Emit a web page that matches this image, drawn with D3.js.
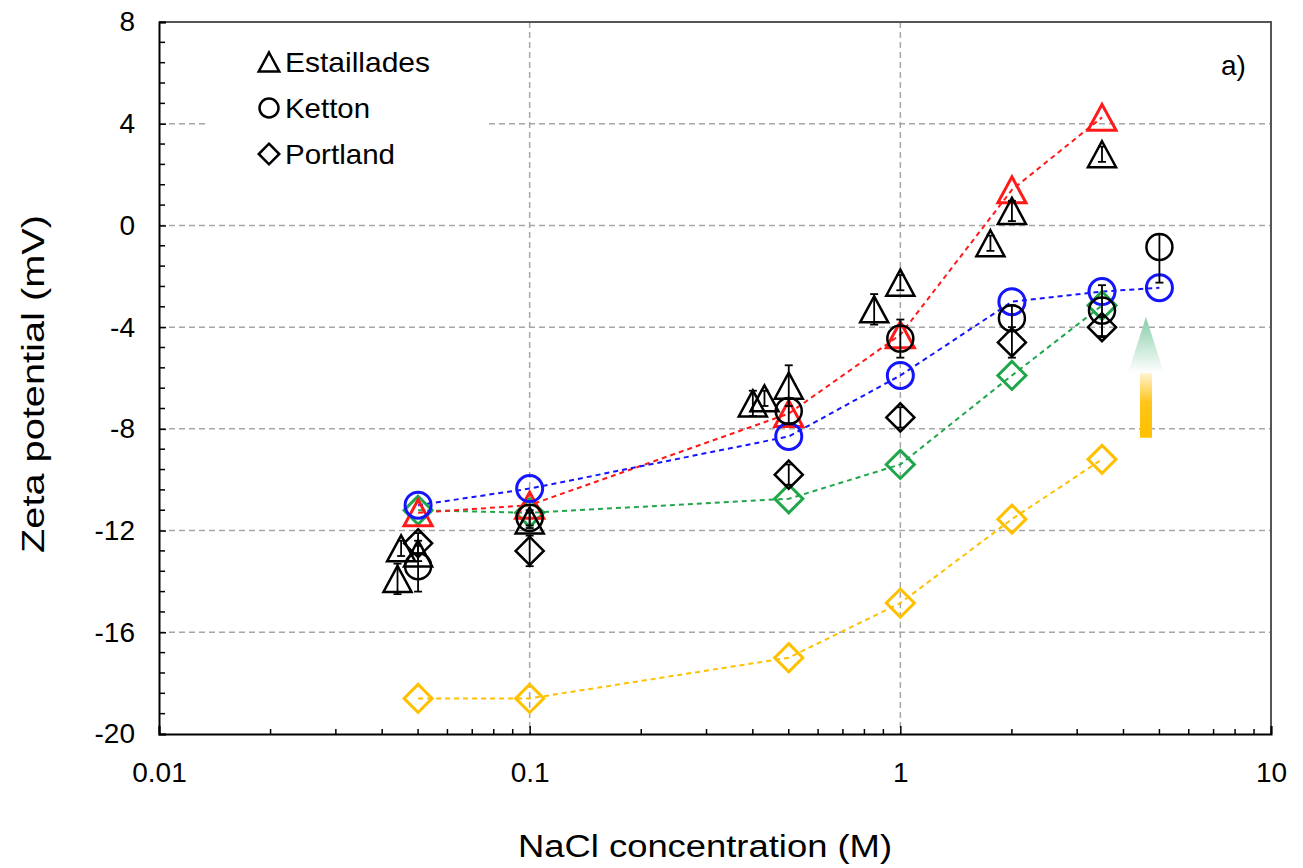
<!DOCTYPE html>
<html>
<head>
<meta charset="utf-8">
<script src="https://cdn.jsdelivr.net/npm/d3@7/dist/d3.min.js"></script>
<style>
  html, body { margin: 0; padding: 0; background: #fff; }
  svg { display: block; font-family: "Liberation Sans", Arial, sans-serif; }
</style>
</head>
<body>
<svg id="chart" width="1303" height="868"></svg>
<script>
// Axis ticks
const xTickValues = [0.01, 0.1, 1, 10];
const xTickLabels = ["0.01", "0.1", "1", "10"];
const yTickValues = [-20, -16, -12, -8, -4, 0, 4, 8];
const yTickLabels = ["-20", "-16", "-12", "-8", "-4", "0", "4", "8"];
const yGridValues = [-16, -12, -8, -4, 0, 4];

// Model curves (NaCl concentration in M, zeta potential in mV)
const modelConc = [0.05, 0.1, 0.5, 1, 2, 3.5];
const kettonModelConc = [0.05, 0.1, 0.5, 1, 2, 3.5, 5];
const estailladesModel = [-11.3, -11.0, -7.4, -4.3, 1.4, 4.25];
const kettonModel = [-11.0, -10.35, -8.3, -5.9, -3.0, -2.6, -2.45];
const portlandModel = [-11.2, -11.3, -10.75, -9.4, -5.9, -3.15];
const portlandModelLow = [-18.6, -18.6, -17.0, -14.85, -11.55, -9.2];

// Measurements with error bars (upper / lower extent in mV)
const estailladesConc = [0.044, 0.045, 0.05, 0.1, 0.4, 0.43, 0.5, 0.85, 1, 1.75, 2, 3.5];
const estailladesZeta = [-13.9, -12.7, -12.9, -11.6, -7.0, -6.8, -6.3, -3.3, -2.25, -0.7, 0.57, 2.8];
const estailladesErrUp = [0.6, 0.3, 0.3, 0.3, 0.5, 0.3, 0.8, 0.6, 0.3, 0.3, 0.4, 0.3];
const estailladesErrDown = [0.6, 0.3, 0.3, 0.3, 0.5, 0.3, 0.8, 0.6, 0.3, 0.3, 0.4, 0.3];

const kettonConc = [0.05, 0.1, 0.5, 1, 2, 3.5, 5];
const kettonZeta = [-13.4, -11.5, -7.3, -4.45, -3.65, -3.35, -0.85];
const kettonErrUp = [1.0, 0.3, 0.5, 0.75, 0.5, 1.0, 0.5];
const kettonErrDown = [1.0, 0.3, 0.5, 0.75, 0.5, 1.0, 1.4];

const portlandConc = [0.05, 0.1, 0.5, 1, 2, 3.5];
const portlandZeta = [-12.5, -12.8, -9.8, -7.55, -4.6, -4.0];
const portlandErrUp = [0.4, 0.6, 0.4, 0.4, 0.6, 0.4];
const portlandErrDown = [0.4, 0.6, 0.4, 0.4, 0.6, 0.4];

// Arrow annotation (concentration, zeta from base to tip)
const arrowConc = 4.6;
const arrowBase = -8.35;
const arrowNeck = -5.8;
const arrowTip = -3.6;

const legendNames = ["Estaillades", "Ketton", "Portland"];
const legendShapes = ["triangle", "circle", "diamond"];

const svg = d3.select("#chart");
const plotLeft = 159, plotRight = 1271, plotTop = 22, plotBottom = 734;

const x = d3.scaleLog().domain([0.01, 10]).range([plotLeft, plotRight]);
const y = d3.scaleLinear().domain([-20, 8]).range([plotBottom, plotTop]);

function shapePath(shape, s) {
  if (shape === "circle") {
    return `M${-s},0A${s},${s} 0 1,0 ${s},0A${s},${s} 0 1,0 ${-s},0Z`;
  }
  if (shape === "triangle") {
    const w = s * 1.08, h = s;
    return `M0,${-h}L${w},${h}L${-w},${h}Z`;
  }
  return `M0,${-s * 1.08}L${s * 1.08},0L0,${s * 1.08}L${-s * 1.08},0Z`;
}

// Gradients for the arrow
const defs = svg.append("defs");
const gShaft = defs.append("linearGradient").attr("id", "shaftGrad")
  .attr("x1", 0).attr("y1", 1).attr("x2", 0).attr("y2", 0);
gShaft.append("stop").attr("offset", "0%").attr("stop-color", "#ffc000");
gShaft.append("stop").attr("offset", "55%").attr("stop-color", "#ffc61a");
gShaft.append("stop").attr("offset", "100%").attr("stop-color", "#fff4d6");
const gHead = defs.append("linearGradient").attr("id", "headGrad")
  .attr("x1", 0).attr("y1", 1).attr("x2", 0).attr("y2", 0);
gHead.append("stop").attr("offset", "0%").attr("stop-color", "#ffffff");
gHead.append("stop").attr("offset", "100%").attr("stop-color", "#86cda8");

// Grid lines
svg.append("g").selectAll("line").data(yGridValues).join("line")
  .attr("x1", plotLeft).attr("x2", plotRight)
  .attr("y1", d => y(d)).attr("y2", d => y(d))
  .attr("stroke", "#a6a6a6").attr("stroke-width", 1.5)
  .attr("stroke-dasharray", "6,4");
svg.append("g").selectAll("line").data([0.1, 1]).join("line")
  .attr("x1", d => x(d)).attr("x2", d => x(d))
  .attr("y1", plotTop).attr("y2", plotBottom)
  .attr("stroke", "#a6a6a6").attr("stroke-width", 1.5)
  .attr("stroke-dasharray", "6,4");

// Legend background
svg.append("rect").attr("x", 205).attr("y", plotTop + 2).attr("width", 283).attr("height", 158)
  .attr("fill", "#fff");

// Frame (top / right)
svg.append("path")
  .attr("d", `M${plotLeft},${plotTop}H${plotRight}V${plotBottom}`)
  .attr("fill", "none").attr("stroke", "#555").attr("stroke-width", 2);

// Axes with inward ticks
const xMinor = [];
[0.01, 0.1, 1].forEach(d => { for (let k = 2; k <= 9; k++) xMinor.push(d * k); });
const xAxis = d3.axisBottom(x).tickValues(xTickValues).tickSize(-8).tickPadding(28)
  .tickFormat((d, i) => xTickLabels[i]);
const gx = svg.append("g").attr("transform", `translate(0,${plotBottom})`).call(xAxis);
gx.select(".domain").attr("stroke", "#000").attr("stroke-width", 2);
gx.selectAll(".tick line").attr("stroke", "#000").attr("stroke-width", 1.5);
gx.selectAll(".tick text").attr("font-size", 28).attr("fill", "#000")
  .attr("font-family", "'Liberation Sans', Arial, sans-serif");
svg.append("g").selectAll("line").data(xMinor).join("line")
  .attr("x1", d => x(d)).attr("x2", d => x(d))
  .attr("y1", plotBottom).attr("y2", plotBottom - 5)
  .attr("stroke", "#000").attr("stroke-width", 1.5);

const yMinor = d3.range(-20, 8.01, 0.8).filter(v => Math.abs(v / 4 - Math.round(v / 4)) > 1e-6);
const yAxis = d3.axisLeft(y).tickValues(yTickValues).tickSize(-7).tickPadding(24)
  .tickFormat((d, i) => yTickLabels[i]);
const gy = svg.append("g").attr("transform", `translate(${plotLeft},0)`).call(yAxis);
gy.select(".domain").attr("stroke", "#000").attr("stroke-width", 2);
gy.selectAll(".tick line").attr("stroke", "#000").attr("stroke-width", 1.5);
gy.selectAll(".tick text").attr("font-size", 28).attr("fill", "#000")
  .attr("font-family", "'Liberation Sans', Arial, sans-serif");
svg.append("g").selectAll("line").data(yMinor).join("line")
  .attr("x1", plotLeft).attr("x2", plotLeft + 6)
  .attr("y1", d => y(d)).attr("y2", d => y(d))
  .attr("stroke", "#000").attr("stroke-width", 1.5);

// Axis titles
svg.append("text").attr("x", 705).attr("y", 857).attr("text-anchor", "middle")
  .attr("font-size", 31).attr("textLength", 374).attr("lengthAdjust", "spacingAndGlyphs")
  .text("NaCl concentration (M)");
svg.append("text").attr("transform", `translate(44,${(plotTop + plotBottom) / 2 + 6}) rotate(-90)`)
  .attr("text-anchor", "middle").attr("font-size", 31)
  .attr("textLength", 338).attr("lengthAdjust", "spacingAndGlyphs")
  .text("Zeta potential (mV)");
svg.append("text").attr("x", 1221).attr("y", 75).attr("font-size", 28).text("a)");

// Model curves and markers
const models = [
  { conc: modelConc, vals: portlandModelLow, color: "#ffc000", shape: "diamond" },
  { conc: modelConc, vals: portlandModel, color: "#1fa64a", shape: "diamond" },
  { conc: modelConc, vals: estailladesModel, color: "#ff1a1a", shape: "triangle" },
  { conc: kettonModelConc, vals: kettonModel, color: "#1414ff", shape: "circle" }
];
const line = d3.line().x(d => x(d[0])).y(d => y(d[1]));
models.forEach(m => {
  const pts = m.conc.map((c, i) => [c, m.vals[i]]);
  svg.append("path").datum(pts).attr("d", line)
    .attr("fill", "none").attr("stroke", m.color).attr("stroke-width", 2)
    .attr("stroke-dasharray", "5,4");
});
models.forEach(m => {
  const pts = m.conc.map((c, i) => [c, m.vals[i]]);
  svg.append("g").selectAll("path").data(pts).join("path")
    .attr("transform", d => `translate(${x(d[0])},${y(d[1])})`)
    .attr("d", shapePath(m.shape, 13))
    .attr("fill", "none").attr("stroke", m.color).attr("stroke-width", 3);
});

// Measurements
const measured = [
  { conc: portlandConc, vals: portlandZeta, up: portlandErrUp, down: portlandErrDown, shape: "diamond" },
  { conc: kettonConc, vals: kettonZeta, up: kettonErrUp, down: kettonErrDown, shape: "circle" },
  { conc: estailladesConc, vals: estailladesZeta, up: estailladesErrUp, down: estailladesErrDown, shape: "triangle" }
];
measured.forEach(m => {
  const pts = m.conc.map((c, i) => ({ c, v: m.vals[i], hi: m.vals[i] + m.up[i], lo: m.vals[i] - m.down[i] }));
  const g = svg.append("g");
  g.selectAll("path.mk").data(pts).join("path").attr("class", "mk")
    .attr("transform", d => `translate(${x(d.c)},${y(d.v)})`)
    .attr("d", shapePath(m.shape, 13))
    .attr("fill", "none").attr("stroke", "#000").attr("stroke-width", 2.5);
  g.selectAll("line.eb").data(pts).join("line").attr("class", "eb")
    .attr("x1", d => x(d.c)).attr("x2", d => x(d.c))
    .attr("y1", d => y(d.lo)).attr("y2", d => y(d.hi))
    .attr("stroke", "#000").attr("stroke-width", 1.8);
  ["lo", "hi"].forEach(k => {
    g.selectAll(`line.cap-${k}`).data(pts).join("line").attr("class", `cap-${k}`)
      .attr("x1", d => x(d.c) - 4).attr("x2", d => x(d.c) + 4)
      .attr("y1", d => y(d[k])).attr("y2", d => y(d[k]))
      .attr("stroke", "#000").attr("stroke-width", 1.8);
  });
});

// Arrow showing the shift of the low Portland curve
const ax = x(arrowConc);
svg.append("rect").attr("x", ax - 6).attr("y", y(arrowNeck))
  .attr("width", 12).attr("height", y(arrowBase) - y(arrowNeck))
  .attr("fill", "url(#shaftGrad)");
svg.append("path")
  .attr("d", `M${ax},${y(arrowTip)}L${ax + 18},${y(arrowNeck)}L${ax - 18},${y(arrowNeck)}Z`)
  .attr("fill", "url(#headGrad)");

// Legend
const legendWidths = [145, 85, 110];
const leg = svg.append("g");
legendNames.forEach((name, i) => {
  const ly = 62 + i * 46;
  leg.append("path").attr("transform", `translate(269,${ly})`)
    .attr("d", shapePath(legendShapes[i], 9.5))
    .attr("fill", "none").attr("stroke", "#000").attr("stroke-width", 2.5);
  leg.append("text").attr("x", 285).attr("y", ly + 10).attr("font-size", 28)
    .attr("textLength", legendWidths[i]).attr("lengthAdjust", "spacingAndGlyphs")
    .text(name);
});
</script>
</body>
</html>
